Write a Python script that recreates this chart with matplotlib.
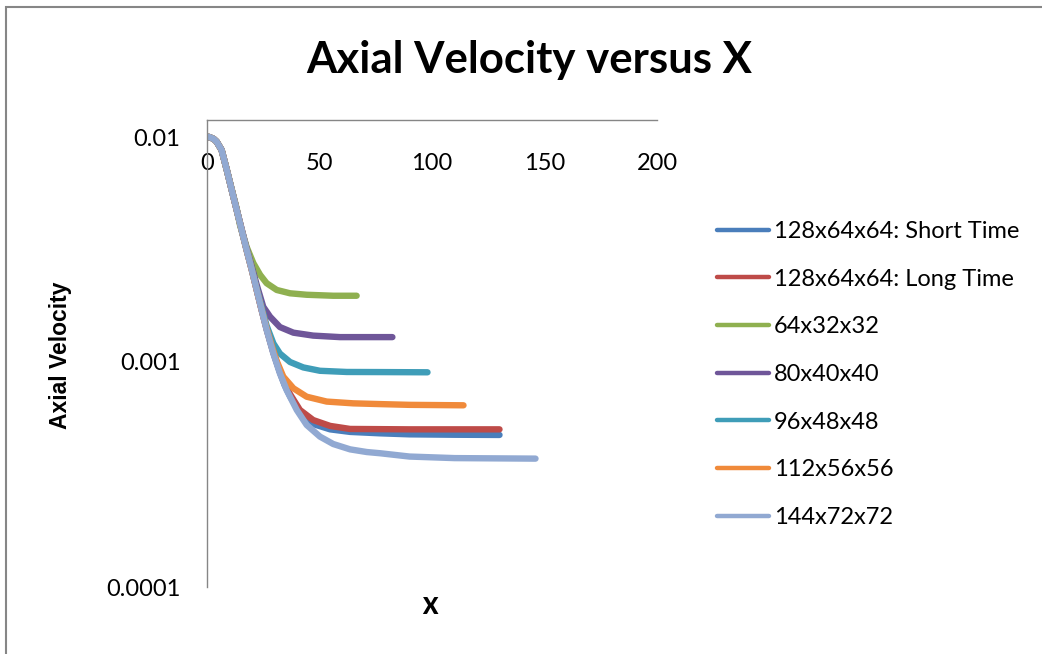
import matplotlib
matplotlib.use("Agg")
import matplotlib.pyplot as plt
from matplotlib.lines import Line2D
from matplotlib.patches import Rectangle
from matplotlib.ticker import FixedLocator, FixedFormatter

plt.rcParams['font.family'] = ['Lato', 'DejaVu Sans']

# axial velocity along the channel for each grid
x_short = [0, 1, 2, 3, 4.3, 6.5, 8.8, 11, 13.2, 15.4, 17.6, 19.9, 22.1, 24.3, 26.5, 29.5,
           32.4, 34.5, 36.9, 41.3, 47.2, 54.7, 63.6, 76.9, 90, 110, 130]
v_short = [0.0100, 0.0100, 0.0099, 0.0098, 0.00953, 0.00875, 0.00714, 0.00581, 0.00474,
           0.00386, 0.00315, 0.00257, 0.00209, 0.00170, 0.00140, 0.00110, 0.000900, 0.000790,
           0.000705, 0.000592, 0.000530, 0.000502, 0.000489, 0.000482, 0.000477, 0.000475,
           0.000474]

x_long = [0, 1, 2, 3, 4.3, 6.5, 8.8, 11, 13.2, 15.4, 17.6, 19.9, 22.1, 24.3, 26.5, 29.5,
          32.4, 34.5, 36.9, 41.3, 47.2, 54.7, 63.6, 76.9, 90, 110, 130]
v_long = [0.0100, 0.0100, 0.0099, 0.0098, 0.00953, 0.00875, 0.00714, 0.00581, 0.00474,
          0.00386, 0.00315, 0.00257, 0.00209, 0.00170, 0.00140, 0.00110, 0.000905, 0.000800,
          0.000720, 0.000612, 0.000552, 0.000520, 0.000504, 0.000503, 0.000502, 0.000502,
          0.000502]

x_64 = [0, 1, 2, 3, 4.3, 6.5, 8.8, 11, 13.2, 14.7, 17.6, 20.6, 23.6, 26.5, 31, 36.9, 44.3,
        56.1, 66.5]
v_64 = [0.0100, 0.0100, 0.0099, 0.0098, 0.00953, 0.00875, 0.00714, 0.00585, 0.00480, 0.00405,
        0.00325, 0.00275, 0.00244, 0.00224, 0.00209, 0.00202, 0.00199, 0.00197, 0.00197]

x_80 = [0, 1, 2, 3, 4.3, 6.5, 8.8, 11, 13.2, 15.4, 17.6, 19.9, 22.1, 25, 28, 32.4, 38.4, 47.2,
        59.1, 70, 82.4]
v_80 = [0.0100, 0.0100, 0.0099, 0.0098, 0.00953, 0.00875, 0.00714, 0.00581, 0.00476, 0.00390,
        0.00320, 0.00265, 0.00220, 0.00176, 0.00159, 0.00143, 0.00135, 0.00131, 0.00129,
        0.00129, 0.00129]

x_96 = [0, 1, 2, 3, 4.3, 6.5, 8.8, 11, 13.2, 15.4, 17.6, 19.9, 22.1, 24.3, 26.5, 29.5, 32.4,
        36.9, 42.8, 50.2, 62.1, 76.9, 98]
v_96 = [0.0100, 0.0100, 0.0099, 0.0098, 0.00953, 0.00875, 0.00714, 0.00581, 0.00474, 0.00386,
        0.00316, 0.00259, 0.00212, 0.00175, 0.00145, 0.00121, 0.00109, 0.00100, 0.000946,
        0.000914, 0.000903, 0.000902, 0.000900]

x_112 = [0, 1, 2, 3, 4.3, 6.5, 8.8, 11, 13.2, 15.4, 17.6, 19.9, 22.1, 24.3, 26.5, 29, 31,
         33.9, 38.4, 44.3, 53.2, 65, 76.9, 90, 114]
v_112 = [0.0100, 0.0100, 0.0099, 0.0098, 0.00953, 0.00875, 0.00714, 0.00581, 0.00474,
         0.00386, 0.00315, 0.00257, 0.00209, 0.00171, 0.00141, 0.00116, 0.00101, 0.000861,
         0.000764, 0.000701, 0.000667, 0.000655, 0.000650, 0.000645, 0.000642]

x_144 = [0, 1, 2, 3, 4.3, 6.5, 8.8, 11, 13.2, 15.4, 17.6, 19.9, 22.1, 24.3, 26.5, 29.5, 32.4,
         35.4, 39.9, 44.3, 50.2, 56.1, 63.6, 71, 77, 90, 110, 146]
v_144 = [0.0100, 0.0100, 0.0099, 0.0098, 0.00953, 0.00875, 0.00714, 0.00581, 0.00474,
         0.00386, 0.00315, 0.00257, 0.00209, 0.00170, 0.00139, 0.00109, 0.00089, 0.00075,
         0.000612, 0.000525, 0.000466, 0.000432, 0.000409, 0.000398, 0.000393, 0.000380,
         0.000374, 0.000372]

labels = ['128x64x64: Short Time', '128x64x64: Long Time', '64x32x32', '80x40x40',
          '96x48x48', '112x56x56', '144x72x72']
colors = ['#4A7EBB', '#BE4B48', '#8FB050', '#6F5699', '#3F9DB8', '#F08A3A', '#91A9D2']

series = [(x_short, v_short), (x_long, v_long), (x_64, v_64), (x_80, v_80),
          (x_96, v_96), (x_112, v_112), (x_144, v_144)]

y_ticks = [0.0001, 0.001, 0.01]
y_tick_labels = ['0.0001', '0.001', '0.01']
x_ticks = [0, 50, 100, 150, 200]

W, H = 1042, 654
fig = plt.figure(figsize=(W / 100, H / 100), dpi=100)
ax = fig.add_axes([207 / W, 1 - 587 / H, 450 / W, 467 / H])

for (xs, vs), lab, col in zip(series, labels, colors):
    ax.plot(xs, vs, color=col, lw=4.6, label=lab,
            solid_capstyle='round', solid_joinstyle='round')

ax.set_yscale('log')
ax.set_xlim(0, 200)
ax.set_ylim(1e-4, 10 ** (-2 + 17 / 225))

grey = '#868686'
for side in ['right', 'bottom']:
    ax.spines[side].set_visible(False)
for side in ['left', 'top']:
    ax.spines[side].set_color(grey)
    ax.spines[side].set_linewidth(1.0)

ax.yaxis.set_major_locator(FixedLocator(y_ticks))
ax.yaxis.set_major_formatter(FixedFormatter(y_tick_labels))
ax.yaxis.set_minor_locator(FixedLocator([]))
ax.tick_params(axis='y', length=0, pad=19, labelsize=17)

ax.set_xticks(x_ticks)
ax.tick_params(axis='x', top=True, bottom=False, labeltop=True, labelbottom=False,
               length=0, pad=-39, labelsize=17)

ax.set_ylabel('Axial Velocity', family=['Liberation Sans', 'DejaVu Sans'],
              fontweight='bold', fontsize=16.5, va='center')
ax.yaxis.set_label_coords((60 - 207) / 450, (587 - 355) / 467)
ax.set_xlabel('X', fontweight='heavy', fontsize=16, va='center')
ax.xaxis.set_label_coords((430 - 207) / 450, (587 - 608) / 467)

fig.text(529 / W, 1 - 60 / H, 'Axial Velocity versus X', ha='center', va='center',
         fontsize=31.5, fontweight='bold')

# legend keys are drawn a bit thinner than the data lines
handles = [Line2D([], [], color=c, lw=3.2, solid_capstyle='round') for c in colors]
fig.legend(handles=handles, labels=labels, loc='upper left',
           bbox_to_anchor=(717 / W, 1 - 221 / H), frameon=False, fontsize=17,
           handlelength=2.2, handletextpad=0.2, labelspacing=1.13,
           borderpad=0, borderaxespad=0)

# chart border
fig.patches.append(Rectangle((6 / W, -0.1), 1.2, 1.1 - 7 / H, transform=fig.transFigure,
                             fill=False, edgecolor=grey, linewidth=1.5))

fig.savefig('out.png', dpi=100)
